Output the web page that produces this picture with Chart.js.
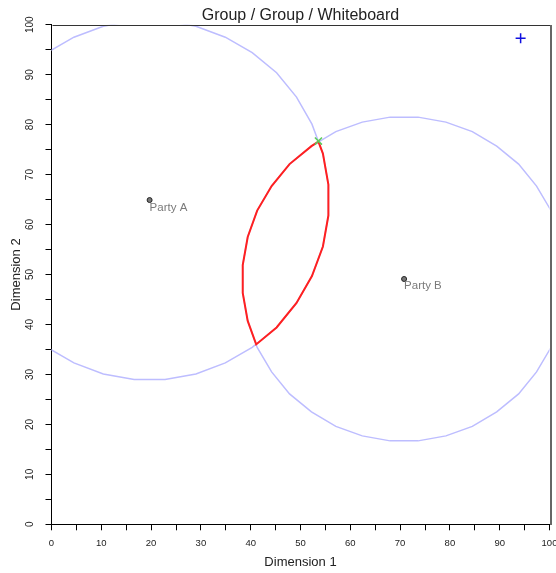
<!DOCTYPE html>
<html>
<head>
<meta charset="utf-8">
<script src="https://cdn.jsdelivr.net/npm/chart.js@4/dist/chart.umd.min.js"></script>
<style>
  html, body { margin: 0; padding: 0; background: #fff; }
</style>
</head>
<body>
<canvas id="c" width="556" height="573"></canvas>
<script>
// 圖表標題與軸標題
const chartTitle = 'Group / Group / Whiteboard';
const xTitle = 'Dimension 1';
const yTitle = 'Dimension 2';

// Party A 圓 (多邊形頂點)
const circleAX = [55.6, 54.5, 52.3, 49.2, 45.2, 40.3, 34.9, 29.0, 22.8, 16.6, 10.4, 4.5, -0.9, -5.8, -9.8, -12.9, -15.1, -16.2,
                  -16.2, -15.1, -12.9, -9.8, -5.8, -0.9, 4.5, 10.4, 16.6, 22.8, 29.0, 34.9, 40.3, 45.2, 49.2, 52.3, 54.5, 55.6, 55.6];
const circleAY = [68.0, 74.2, 80.1, 85.5, 90.4, 94.4, 97.5, 99.7, 100.8, 100.8, 99.7, 97.5, 94.4, 90.4, 85.5, 80.1, 74.2, 68.0,
                  61.8, 55.6, 49.7, 44.3, 39.4, 35.4, 32.3, 30.1, 29.0, 29.0, 30.1, 32.3, 35.4, 39.4, 44.3, 49.7, 55.6, 61.8, 68.0];

// Party B 圓 (多邊形頂點)
const circleBX = [103.2, 102.2, 100.3, 97.4, 93.8, 89.4, 84.5, 79.2, 73.6, 68.0, 62.4, 57.1, 52.2, 47.8, 44.2, 41.3, 39.4, 38.4,
                  38.4, 39.4, 41.3, 44.2, 47.8, 52.2, 57.1, 62.4, 68.0, 73.6, 79.2, 84.5, 89.4, 93.8, 97.4, 100.3, 102.2, 103.2, 103.2];
const circleBY = [51.9, 57.5, 62.8, 67.7, 72.1, 75.7, 78.6, 80.5, 81.5, 81.5, 80.5, 78.6, 75.7, 72.1, 67.7, 62.8, 57.5, 51.9,
                  46.3, 40.7, 35.4, 30.5, 26.1, 22.5, 19.6, 17.7, 16.7, 16.7, 17.7, 19.6, 22.5, 26.1, 30.5, 35.4, 40.7, 46.3, 51.9];

// 交集區域 (紅線)
const lensX = [53.6, 52.2, 47.8, 44.2, 41.3, 39.4, 38.4, 38.4, 39.4, 41.1, 45.2, 49.2, 52.3, 54.5, 55.6, 55.6, 54.5, 53.6];
const lensY = [76.6, 75.7, 72.1, 67.7, 62.8, 57.5, 51.9, 46.3, 40.7, 36.0, 39.4, 44.3, 49.7, 55.6, 61.8, 68.0, 74.2, 76.6];

// 各方位置
const partyNames = ['Party A', 'Party B'];
const partyX = [19.7, 70.8];
const partyY = [64.9, 49.1];

// 綠色 X 與藍色 +
const solutionX = [53.6];
const solutionY = [76.7];
const whiteboardX = [94.2];
const whiteboardY = [97.3];

// 軸範圍與刻度
const axisMin = 0;
const axisMax = 100;
const tickStep = 5;
const labelStep = 10;

function toPoints(xs, ys) {
    return xs.map((x, i) => ({ x: x, y: ys[i] }));
}

const FONT = 'Arial, "Liberation Sans", sans-serif';

// 外框與標題、標籤
const framePlugin = {
    id: 'frame',
    afterDraw(chart) {
        const { ctx, chartArea } = chart;
        const xs = chart.scales.x, ys = chart.scales.y;
        ctx.save();
        // 上方與右方邊框
        ctx.strokeStyle = '#333';
        ctx.lineWidth = 1;
        ctx.beginPath();
        ctx.moveTo(Math.round(chartArea.left) + 0.5, Math.round(chartArea.top) + 0.5);
        ctx.lineTo(Math.round(chartArea.right) + 0.5, Math.round(chartArea.top) + 0.5);
        ctx.stroke();
        ctx.strokeStyle = '#666';
        ctx.lineWidth = 2;
        ctx.beginPath();
        ctx.moveTo(Math.round(chartArea.right) + 1, Math.round(chartArea.top));
        ctx.lineTo(Math.round(chartArea.right) + 1, Math.round(chartArea.bottom) + 1);
        ctx.stroke();
        // 標題
        ctx.fillStyle = '#222';
        ctx.font = '16px ' + FONT;
        ctx.textAlign = 'center';
        ctx.textBaseline = 'alphabetic';
        ctx.fillText(chartTitle, (chartArea.left + chartArea.right) / 2, 20);
        // 各方名稱
        ctx.fillStyle = '#7a7a7a';
        ctx.font = '11.5px ' + FONT;
        ctx.textAlign = 'left';
        partyNames.forEach((name, i) => {
            const px = xs.getPixelForValue(partyX[i]);
            const py = ys.getPixelForValue(partyY[i]);
            ctx.fillText(name, px, py + 10.5);
        });
        ctx.restore();
    }
};

const ctx = document.getElementById('c').getContext('2d');
new Chart(ctx, {
    type: 'scatter',
    data: {
        datasets: [
            {
                label: 'Circle A',
                data: toPoints(circleAX, circleAY),
                showLine: true,
                borderColor: '#bdbdff',
                borderWidth: 1.5,
                pointRadius: 0,
                tension: 0,
                order: 3
            },
            {
                label: 'Circle B',
                data: toPoints(circleBX, circleBY),
                showLine: true,
                borderColor: '#bdbdff',
                borderWidth: 1.5,
                pointRadius: 0,
                tension: 0,
                order: 3
            },
            {
                label: 'Lens',
                data: toPoints(lensX, lensY),
                showLine: true,
                borderColor: '#ff2020',
                borderWidth: 2,
                pointRadius: 0,
                tension: 0,
                order: 2
            },
            {
                label: 'Parties',
                data: toPoints(partyX, partyY),
                pointStyle: 'circle',
                pointRadius: 2.5,
                backgroundColor: '#777',
                borderColor: '#222',
                borderWidth: 1,
                order: 1
            },
            {
                label: 'Solution',
                data: toPoints(solutionX, solutionY),
                pointStyle: 'crossRot',
                pointRadius: 5,
                borderColor: '#5ccc5c',
                borderWidth: 1.5,
                order: 0
            },
            {
                label: 'Whiteboard',
                data: toPoints(whiteboardX, whiteboardY),
                pointStyle: 'cross',
                pointRadius: 5,
                borderColor: '#1010e0',
                borderWidth: 1.5,
                order: 0
            }
        ]
    },
    options: {
        responsive: false,
        animation: false,
        layout: { padding: { top: 24.7, right: 5, left: 0, bottom: 0 } },
        plugins: {
            legend: { display: false },
            tooltip: { enabled: false },
            title: { display: false }
        },
        scales: {
            x: {
                type: 'linear',
                min: axisMin,
                max: axisMax,
                afterBuildTicks: s => {
                    s.ticks = [];
                    for (let v = axisMin; v <= axisMax; v += tickStep) s.ticks.push({ value: v });
                },
                ticks: {
                    autoSkip: false,
                    maxRotation: 0,
                    minRotation: 0,
                    padding: 7,
                    color: '#222',
                    font: { size: 9.5, family: FONT },
                    callback: v => (v % labelStep === 0 ? v : '')
                },
                grid: { drawOnChartArea: false, drawTicks: true, tickLength: 6, color: '#000' },
                border: { display: true, color: '#000', width: 1 },
                title: {
                    display: true,
                    text: xTitle,
                    color: '#222',
                    font: { size: 13, family: FONT },
                    padding: { top: 0, bottom: 3 }
                },
                afterFit: s => {
                    s.height = 48.7;
                    s.paddingLeft = 0;
                    s.paddingRight = 0;
                }
            },
            y: {
                type: 'linear',
                min: axisMin,
                max: axisMax,
                afterBuildTicks: s => {
                    s.ticks = [];
                    for (let v = axisMin; v <= axisMax; v += tickStep) s.ticks.push({ value: v });
                },
                ticks: {
                    autoSkip: false,
                    minRotation: 90,
                    maxRotation: 90,
                    crossAlign: 'center',
                    padding: 7,
                    color: '#222',
                    font: { size: 10, family: FONT },
                    callback: v => (v % labelStep === 0 ? v : '')
                },
                grid: { drawOnChartArea: false, drawTicks: true, tickLength: 6, color: '#000' },
                border: { display: true, color: '#000', width: 1 },
                title: {
                    display: true,
                    text: yTitle,
                    color: '#222',
                    font: { size: 13, family: FONT },
                    padding: { top: 9, bottom: 0 }
                },
                afterFit: s => {
                    s.width = 51.5;
                    s.paddingTop = 0;
                    s.paddingBottom = 0;
                }
            }
        }
    },
    plugins: [framePlugin]
});
</script>
</body>
</html>
